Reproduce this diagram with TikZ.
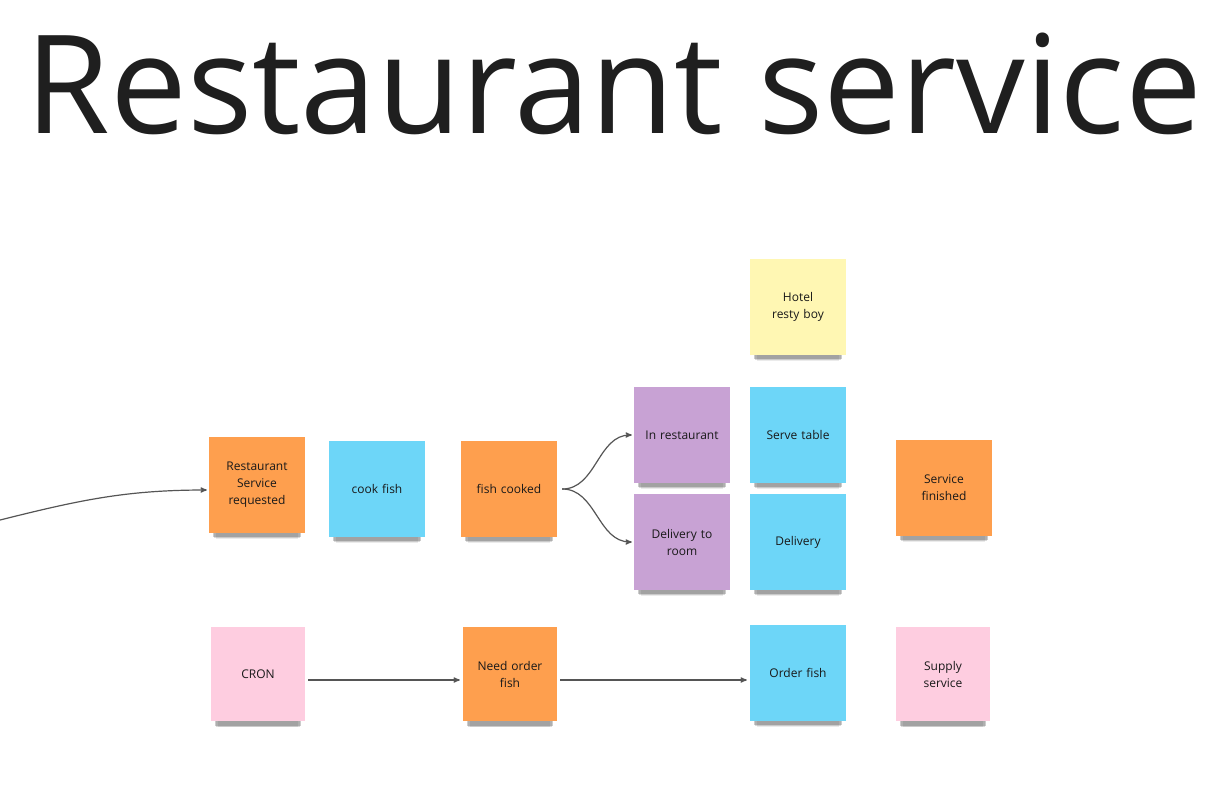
\documentclass[tikz,border=0pt]{standalone}
\usepackage{fontspec}
\setmainfont{Open Sans}
\usetikzlibrary{arrows}
\usetikzlibrary{positioning}
\usetikzlibrary{shadows}
\usepackage{xcolor}
\definecolor{noteorange}{HTML}{FE9F4E}
\definecolor{noteblue}{HTML}{6DD6F8}
\definecolor{notepurple}{HTML}{C8A2D4}
\definecolor{noteyellow}{HTML}{FFF7B3}
\definecolor{notepink}{HTML}{FECDE0}
\definecolor{linkgray}{HTML}{555555}
\tikzset{
  sticky/.style={minimum width=96pt, minimum height=96pt, inner sep=0pt, text width=86pt, align=center,
    text=black!90, font=\fontsize{12}{17}\selectfont,
    general shadow={fill=black, opacity=.08, shadow yshift=-15pt, shadow scale=.86},
    general shadow={fill=black, opacity=.14, shadow yshift=-12pt, shadow scale=.89},
    general shadow={fill=black, opacity=.2, shadow yshift=-9pt, shadow scale=.92}},
  link/.style={draw=linkgray, line width=1.2pt, ->, >=stealth'}
}

\begin{document}
\begin{tikzpicture}[x=1pt, y=-1pt]
\useasboundingbox (0,0) rectangle (1229,801);
\node[anchor=base, font=\fontsize{137}{140}\selectfont, text=black!88] (title) at (614,133) {Restaurant service};

\node[sticky, fill=noteorange] (req) at (257,485) {Restaurant\\Service\\requested};
\node[sticky, fill=noteblue] (cook) at (377,489) {cook fish};
\node[sticky, fill=noteorange] (cooked) at (509,489) {fish cooked};
\node[sticky, fill=notepurple] (inrest) at (682,435) {In restaurant};
\node[sticky, fill=notepurple] (delroom) at (682,542) {Delivery to\\room};
\node[sticky, fill=noteyellow] (hotel) at (798,307) {Hotel\\resty boy};
\node[sticky, fill=noteblue] (serve) at (798,435) {Serve table};
\node[sticky, fill=noteblue] (delivery) at (798,542) {Delivery};
\node[sticky, fill=noteorange] (finished) at (944,488) {Service\\finished};

\node[sticky, fill=notepink, minimum width=94pt, minimum height=94pt] (cron) at (258,674) {CRON};
\node[sticky, fill=noteorange, minimum width=94pt, minimum height=94pt] (needorder) at (510,674) {Need order\\fish};
\node[sticky, fill=noteblue] (order) at (798,673) {Order fish};
\node[sticky, fill=notepink, minimum width=94pt, minimum height=94pt] (supply) at (943,674) {Supply\\service};

% incoming trigger
\coordinate (trigger) at (0,520);
\draw[link] (trigger) to[out=14,in=180] ([xshift=-2pt,yshift=-5pt]req.west);

% branch after cooking
\coordinate[right=5pt of cooked] (fork);
\foreach \target in {inrest,delroom}
  \draw[link] (fork) to[out=0,in=180] ([xshift=-2pt]\target.west);

% supply chain
\draw[link] ([xshift=3pt,yshift=-6pt]cron.east) -- ([xshift=-3pt,yshift=-6pt]needorder.west);
\draw[link] ([xshift=3pt,yshift=-6pt]needorder.east) -- ([xshift=-3pt,yshift=-7pt]order.west);
\end{tikzpicture}
\end{document}
